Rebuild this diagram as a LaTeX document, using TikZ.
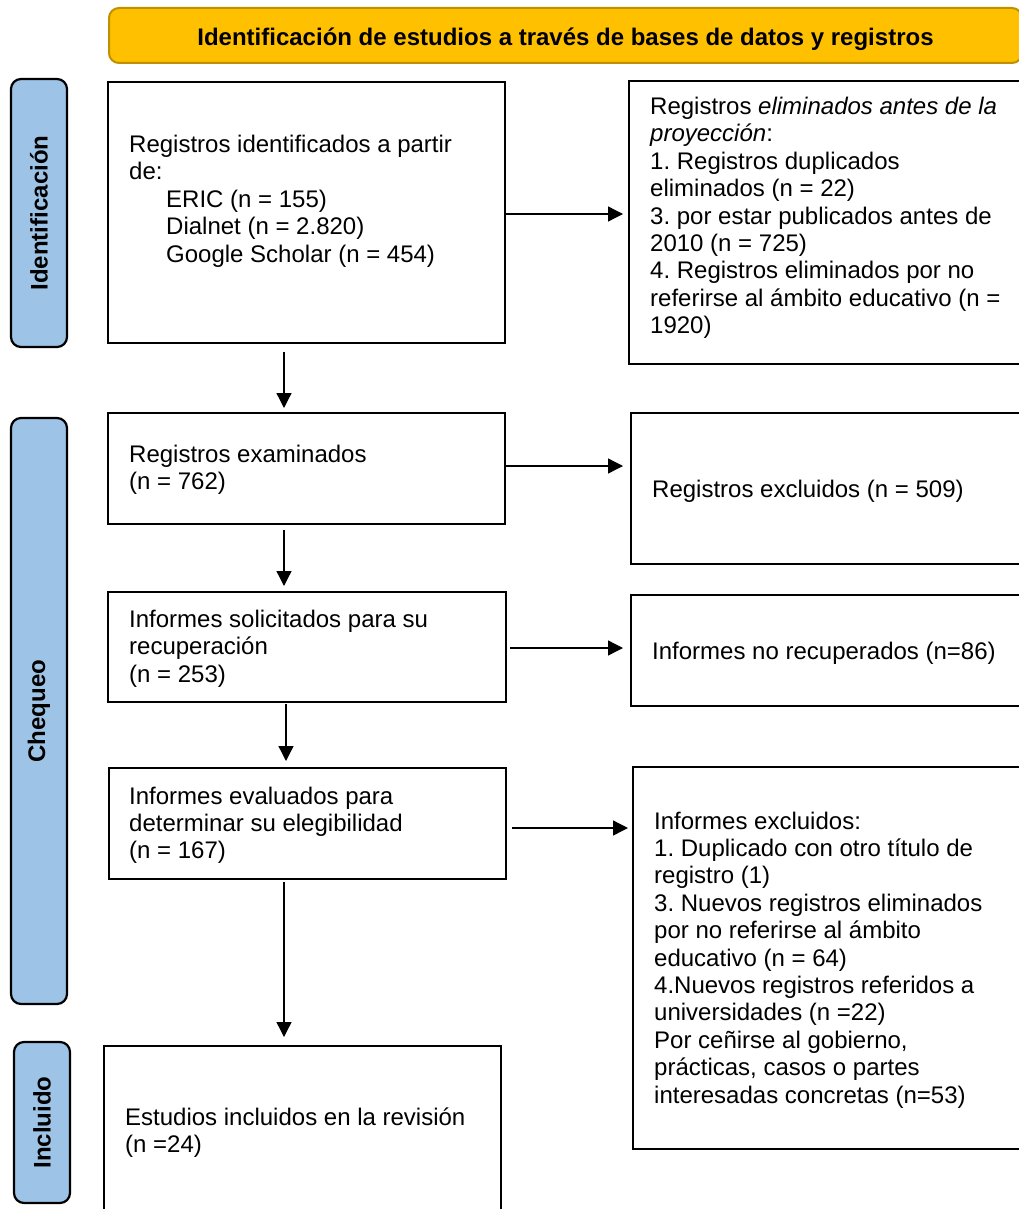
\documentclass[tikz,border=0pt]{standalone}
\usepackage{fontspec}
\setmainfont{Liberation Sans}
\usetikzlibrary{arrows.meta}
\definecolor{gold}{HTML}{FFC000}
\definecolor{golddark}{HTML}{BF9000}
\definecolor{phase}{HTML}{9DC3E6}
\newcommand{\ml}[1]{\begin{tabular}[t]{@{}l@{}}#1\end{tabular}}
\frenchspacing
\begin{document}
\frenchspacing
\begin{tikzpicture}[x=1pt,y=-1pt,
  box/.style={draw, line width=2.2pt, rectangle, anchor=north west, inner sep=0pt},
  phasebox/.style={draw, line width=2.2pt, fill=phase, rounded corners=10pt, anchor=center, inner sep=0pt, rotate=90,
     font=\bfseries\fontsize{24}{27}\selectfont, minimum height=56pt},
  txt/.style={anchor=base west, inner sep=0pt, font=\fontsize{24}{27.4}\selectfont\frenchspacing},
  arr/.style={line width=1.3pt, -{Triangle[length=15pt,width=15pt]}}]
\path[use as bounding box] (0,0) rectangle (1019,1209);
\clip (0,0) rectangle (1019,1209);

% banner
\node[draw=golddark, fill=gold, line width=2pt, rounded corners=10pt, anchor=north west,
  minimum width=913pt, minimum height=55pt, inner sep=0pt, text height=24.6pt, text depth=5pt,
  font=\bfseries\fontsize{24}{27}\selectfont] (ban) at (108,7)
  {Identificación de estudios a través de bases de datos y registros};

% phase labels
\node[phasebox, minimum width=268pt] (p1) at (39,213) {Identificación};
\node[phasebox, minimum width=586pt] (p2) at (39,711) {Chequeo};
\node[phasebox, minimum width=161pt] (p3) at (42,1122.5) {Incluido};

% left column boxes
\node[box, minimum width=397pt, minimum height=261pt] (b1) at (107,81) {};
\node[box, minimum width=397pt, minimum height=111pt] (b2) at (107,412) {};
\node[box, minimum width=398pt, minimum height=110pt] (b3) at (107,591) {};
\node[box, minimum width=397pt, minimum height=111pt] (b4) at (108,767) {};
\node[box, minimum width=397pt, minimum height=200pt] (b5) at (103,1045) {};

% right column boxes
\node[box, minimum width=420pt, minimum height=283pt] (r1) at (628,80) {};
\node[box, minimum width=420pt, minimum height=151pt] (r2) at (630,412) {};
\node[box, minimum width=420pt, minimum height=111pt] (r3) at (630,594) {};
\node[box, minimum width=420pt, minimum height=382pt] (r4) at (632,766) {};

% texts
\node[txt] (t1) at (129,152.5) {\ml{Registros identificados a partir\\ de:\\ \hspace{37pt}ERIC (n = 155)\\ \hspace{37pt}Dialnet (n = 2.820)\\ \hspace{37pt}Google Scholar (n = 454)}};
\node[txt] (t2) at (129,462) {\ml{Registros examinados\\ (n = 762)}};
\node[txt] (t3) at (129,627.5) {\ml{Informes solicitados para su\\ recuperación\\ (n = 253)}};
\node[txt] (t4) at (129,804) {\ml{Informes evaluados para\\ determinar su elegibilidad\\ (n = 167)}};
\node[txt] (t5) at (125,1125.5) {\ml{Estudios incluidos en la revisión\\ (n =24)}};

\node[txt] (s1) at (650,114.5) {\ml{Registros \textit{eliminados antes de la}\\ \textit{proyección}:\\ 1. Registros duplicados\\ eliminados (n = 22)\\ 3. por estar publicados antes de\\ 2010 (n = 725)\\ 4. Registros eliminados por no\\ referirse al ámbito educativo (n =\\ 1920)}};
\node[txt] (s2) at (652,497) {Registros excluidos (n = 509)};
\node[txt] (s3) at (652,659) {Informes no recuperados (n=86)};
\node[txt] (s4) at (654,829) {\ml{Informes excluidos:\\ 1. Duplicado con otro título de\\ registro (1)\\ 3. Nuevos registros eliminados\\ por no referirse al ámbito\\ educativo (n = 64)\\ 4.Nuevos registros referidos a\\ universidades (n =22)\\ Por ceñirse al gobierno,\\ prácticas, casos o partes\\ interesadas concretas (n=53)}};

% horizontal arrows
\draw[arr, shorten >=5pt] (b1.east |- 0,214) -- (r1.west |- 0,214);
\draw[arr, shorten >=7pt] (b2.east |- 0,466) -- (r2.west |- 0,466);
\draw[arr, shorten <=3pt, shorten >=7pt] (b3.east |- 0,648) -- (r3.west |- 0,648);
\draw[arr, shorten <=5pt, shorten >=4pt] (b4.east |- 0,828) -- (r4.west |- 0,828);

% vertical arrows
\draw[arr, shorten <=8pt, shorten >=4pt] (b1.south -| 284,0) -- (b2.north -| 284,0);
\draw[arr, shorten <=5pt, shorten >=5pt] (b2.south -| 284,0) -- (b3.north -| 284,0);
\draw[arr, shorten <=1pt, shorten >=6pt] (b3.south -| 286,0) -- (b4.north -| 286,0);
\draw[arr, shorten <=2pt, shorten >=8pt] (b4.south -| 284,0) -- (b5.north -| 284,0);
\end{tikzpicture}
\end{document}
